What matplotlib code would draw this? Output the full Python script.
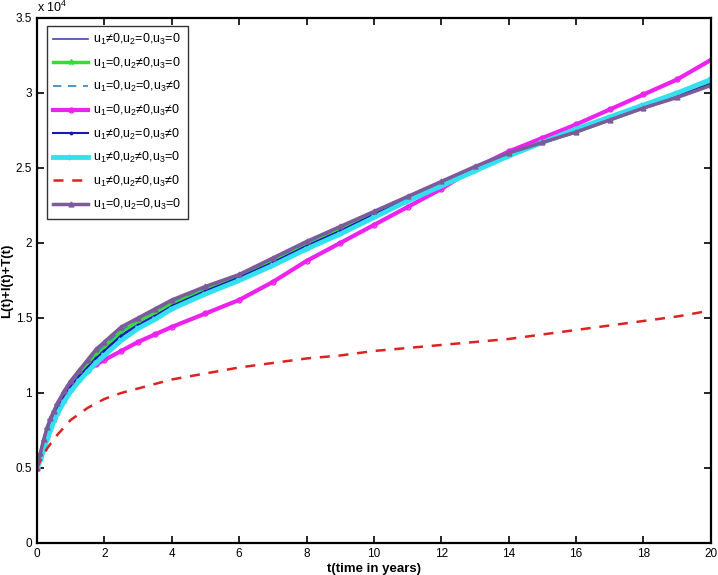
import matplotlib
matplotlib.use("Agg")
from matplotlib import pyplot as plt
import numpy as np

plt.rcParams['font.family'] = ['Liberation Sans', 'DejaVu Sans']
plt.rcParams['mathtext.fontset'] = 'custom'
plt.rcParams['mathtext.rm'] = 'Liberation Sans'
plt.rcParams['mathtext.it'] = 'Liberation Sans'

# vreme (godine)
t = [0, 0.1, 0.2, 0.3, 0.4, 0.5, 0.6, 0.8, 1, 1.25, 1.5, 1.75, 2, 2.5, 3, 3.5, 4,
     5, 6, 7, 8, 9, 10, 11, 12, 13, 14, 15, 16, 17, 18, 19, 20]

# L(t)+I(t)+T(t), u jedinicama 10^4
u1 = [0.50, 0.58, 0.66, 0.73, 0.79, 0.85, 0.90, 0.98, 1.05, 1.12, 1.18, 1.24, 1.29, 1.39, 1.46, 1.52, 1.58,
      1.68, 1.77, 1.88, 1.99, 2.09, 2.20, 2.30, 2.40, 2.50, 2.59, 2.67, 2.75, 2.83, 2.91, 2.99, 3.07]
u2 = [0.50, 0.59, 0.68, 0.76, 0.82, 0.87, 0.92, 1.00, 1.07, 1.14, 1.20, 1.26, 1.31, 1.41, 1.48, 1.54, 1.60,
      1.69, 1.78, 1.89, 2.00, 2.10, 2.20, 2.30, 2.40, 2.50, 2.59, 2.67, 2.74, 2.82, 2.90, 2.98, 3.06]
u3 = [0.50, 0.59, 0.68, 0.76, 0.82, 0.87, 0.92, 1.00, 1.07, 1.14, 1.21, 1.27, 1.32, 1.42, 1.49, 1.55, 1.61,
      1.70, 1.79, 1.89, 2.00, 2.10, 2.21, 2.31, 2.41, 2.50, 2.59, 2.67, 2.74, 2.82, 2.90, 2.97, 3.05]
u23 = [0.50, 0.57, 0.64, 0.71, 0.77, 0.83, 0.88, 0.98, 1.04, 1.10, 1.15, 1.19, 1.22, 1.28, 1.34, 1.39, 1.44,
       1.53, 1.62, 1.74, 1.88, 2.00, 2.12, 2.24, 2.36, 2.50, 2.61, 2.70, 2.79, 2.89, 2.99, 3.09, 3.22]
u13 = [0.50, 0.57, 0.65, 0.72, 0.78, 0.84, 0.89, 0.97, 1.04, 1.11, 1.17, 1.23, 1.28, 1.38, 1.45, 1.51, 1.58,
       1.68, 1.77, 1.87, 1.98, 2.08, 2.19, 2.29, 2.39, 2.49, 2.59, 2.67, 2.75, 2.83, 2.91, 2.98, 3.06]
u12 = [0.50, 0.55, 0.62, 0.69, 0.75, 0.81, 0.86, 0.94, 1.01, 1.08, 1.14, 1.20, 1.25, 1.35, 1.43, 1.49, 1.56,
       1.66, 1.75, 1.85, 1.96, 2.06, 2.17, 2.28, 2.38, 2.48, 2.58, 2.67, 2.76, 2.84, 2.92, 3.00, 3.09]
u123 = [0.50, 0.55, 0.59, 0.63, 0.66, 0.69, 0.72, 0.77, 0.82, 0.86, 0.90, 0.93, 0.96, 1.00, 1.03, 1.06, 1.09,
        1.13, 1.17, 1.20, 1.23, 1.25, 1.28, 1.30, 1.32, 1.34, 1.36, 1.39, 1.42, 1.45, 1.48, 1.51, 1.55]
u0 = [0.50, 0.60, 0.69, 0.77, 0.83, 0.88, 0.93, 1.01, 1.08, 1.15, 1.22, 1.29, 1.34, 1.44, 1.50, 1.56, 1.62,
      1.71, 1.79, 1.90, 2.01, 2.11, 2.21, 2.31, 2.41, 2.51, 2.60, 2.67, 2.74, 2.82, 2.90, 2.97, 3.05]

labels = ['u$_1$≠0,u$_2$=0,u$_3$=0',
          'u$_1$=0,u$_2$≠0,u$_3$=0',
          'u$_1$=0,u$_2$=0,u$_3$≠0',
          'u$_1$=0,u$_2$≠0,u$_3$≠0',
          'u$_1$≠0,u$_2$=0,u$_3$≠0',
          'u$_1$≠0,u$_2$≠0,u$_3$=0',
          'u$_1$≠0,u$_2$≠0,u$_3$≠0',
          'u$_1$=0,u$_2$=0,u$_3$=0']

fig = plt.figure(figsize=(7.18, 5.75), dpi=100)
ax = fig.add_axes([0.0515, 0.0557, 0.9385, 0.913])

ax.plot(t, u1, '-', color='#4646a8', lw=1.2, label=labels[0])
ax.plot(t, u2, '-', color='#33dd33', lw=2.5, marker='*', ms=4, label=labels[1])
ax.plot(t, u3, '--', color='#2f86c4', lw=1.2, dashes=(5, 4), label=labels[2])
ax.plot(t, u23, '-', color='#ee22ee', lw=3, marker='o', ms=3.5, mfc='none', label=labels[3])
ax.plot(t, u13, '-', color='#1818b8', lw=1.5, marker='.', ms=3.5, label=labels[4])
ax.plot(t, u12, '-', color='#33e0f0', lw=3.5, marker='>', ms=3.5, label=labels[5])
ax.plot(t, u123, '--', color='#dd2222', lw=1.8, dashes=(4, 3.5), label=labels[6])
ax.plot(t, u0, '-', color='#7d5a9a', lw=2.5, marker='^', ms=3.5, label=labels[7])

ax.set_xlim(0, 20)
ax.set_ylim(0, 3.5)
ax.set_xticks(np.arange(0, 21, 2))
ax.set_yticks(np.arange(0, 3.51, 0.5))
ax.set_yticklabels(['0', '0.5', '1', '1.5', '2', '2.5', '3', '3.5'])
ax.tick_params(direction='in', top=True, right=True, length=5, width=1.2, labelsize=8.5)
for s in ax.spines.values():
    s.set_linewidth(1.6)

ax.text(0.0, 1.005, 'x 10$^4$', transform=ax.transAxes, fontsize=9, ha='left', va='bottom')
ax.set_xlabel('t(time in years)', fontweight='bold', fontsize=9.5, labelpad=2)
ax.set_ylabel('L(t)+I(t)+T(t)', fontweight='bold', fontsize=9.5)
ax.yaxis.set_label_coords(-0.036, 0.5)

leg = ax.legend(loc='upper left', bbox_to_anchor=(0.015, 0.985), borderaxespad=0, fontsize=9,
                frameon=True, fancybox=False, edgecolor='black', handlelength=2.8, labelspacing=0.68,
                borderpad=0.5, handletextpad=0.4)
leg.get_frame().set_linewidth(1.0)

fig.savefig('out.png', dpi=100)
